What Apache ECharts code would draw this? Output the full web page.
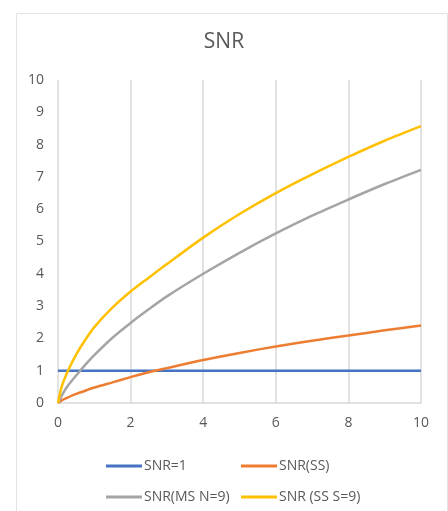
<!DOCTYPE html>
<html>
<head>
<meta charset="utf-8">
<script src="https://cdn.jsdelivr.net/npm/echarts@6/dist/echarts.min.js"></script>
<style>
html,body{margin:0;padding:0;background:#fff;}
#c{width:448px;height:511px;}
</style>
</head>
<body>
<div id="c"></div>
<script>
// x values (shared by the curved series)
var xs = [0, 0.1, 0.25, 0.5, 0.75, 1, 1.5, 2, 2.5, 3, 4, 5, 6, 7, 8, 9, 10];
var snrOneX = [0, 10];
var snrOne = [1, 1];
var snrSS = [0, 0.08, 0.16, 0.28, 0.38, 0.48, 0.64, 0.80, 0.95, 1.08, 1.33, 1.55, 1.75, 1.93, 2.09, 2.25, 2.40];
var snrMS = [0, 0.22, 0.50, 0.85, 1.18, 1.48, 2.02, 2.48, 2.90, 3.30, 4.00, 4.65, 5.25, 5.80, 6.30, 6.78, 7.22];
var snrSS9 = [0, 0.50, 0.94, 1.50, 1.95, 2.35, 2.95, 3.45, 3.88, 4.30, 5.12, 5.85, 6.50, 7.08, 7.62, 8.12, 8.57];
var xTicks = [0, 2, 4, 6, 8, 10];
var yTicks = [0, 1, 2, 3, 4, 5, 6, 7, 8, 9, 10];
var names = ['SNR=1', 'SNR(SS)', 'SNR(MS N=9)', 'SNR (SS S=9)'];
var colors = ['#4472C4', '#ED7D31', '#A5A5A5', '#FFC000'];

function pairs(x, y) { return x.map(function (v, i) { return [v, y[i]]; }); }

var font = 'Open Sans';
var chart = echarts.init(document.getElementById('c'));
function mkSeries(name, data, color, smooth) {
  return {
    name: name, type: 'line', data: data, smooth: smooth, showSymbol: false,
    symbol: 'none', lineStyle: { color: color, width: 2.5 }, itemStyle: { color: color },
    animation: false
  };
}
chart.setOption({
  animation: false,
  color: colors,
  graphic: [{
    type: 'rect', left: 14, top: 11, shape: { width: 431, height: 540 },
    style: { fill: 'none', stroke: '#e3e3e3', lineWidth: 1 }, silent: true
  }],
  title: {
    text: 'SNR', left: 'center', top: 27,
    textStyle: { color: '#595959', fontSize: 21, fontWeight: 'normal', fontFamily: font }
  },
  legend: [{
    data: [names[0], names[2]], orient: 'vertical', left: 101, top: 454, itemGap: 17,
    itemWidth: 36, itemHeight: 3, icon: 'rect',
    textStyle: { color: '#595959', fontSize: 14, fontFamily: font, padding: [0, 0, 0, -3] }
  }, {
    data: [names[1], names[3]], orient: 'vertical', left: 236, top: 454, itemGap: 17,
    itemWidth: 36, itemHeight: 3, icon: 'rect',
    textStyle: { color: '#595959', fontSize: 14, fontFamily: font, padding: [0, 0, 0, -3] }
  }],
  grid: { left: 58, right: 27, top: 80, bottom: 108, containLabel: false },
  xAxis: {
    type: 'value', min: xTicks[0], max: xTicks[xTicks.length - 1], interval: 2,
    axisLine: { show: true, lineStyle: { color: '#d9d9d9', width: 1.5 } },
    axisTick: { show: false },
    splitLine: { show: true, lineStyle: { color: '#d9d9d9', width: 1.5 } },
    axisLabel: { color: '#595959', fontSize: 14, fontFamily: font, margin: 13 }
  },
  yAxis: {
    type: 'value', min: yTicks[0], max: yTicks[yTicks.length - 1], interval: 1,
    axisLine: { show: false }, axisTick: { show: false },
    splitLine: { show: false },
    axisLabel: { color: '#595959', fontSize: 14, fontFamily: font, margin: 14 }
  },
  series: [
    mkSeries(names[0], pairs(snrOneX, snrOne), colors[0], false),
    mkSeries(names[1], pairs(xs, snrSS), colors[1], 0.3),
    mkSeries(names[2], pairs(xs, snrMS), colors[2], 0.3),
    mkSeries(names[3], pairs(xs, snrSS9), colors[3], 0.3)
  ]
});
</script>
</body>
</html>
